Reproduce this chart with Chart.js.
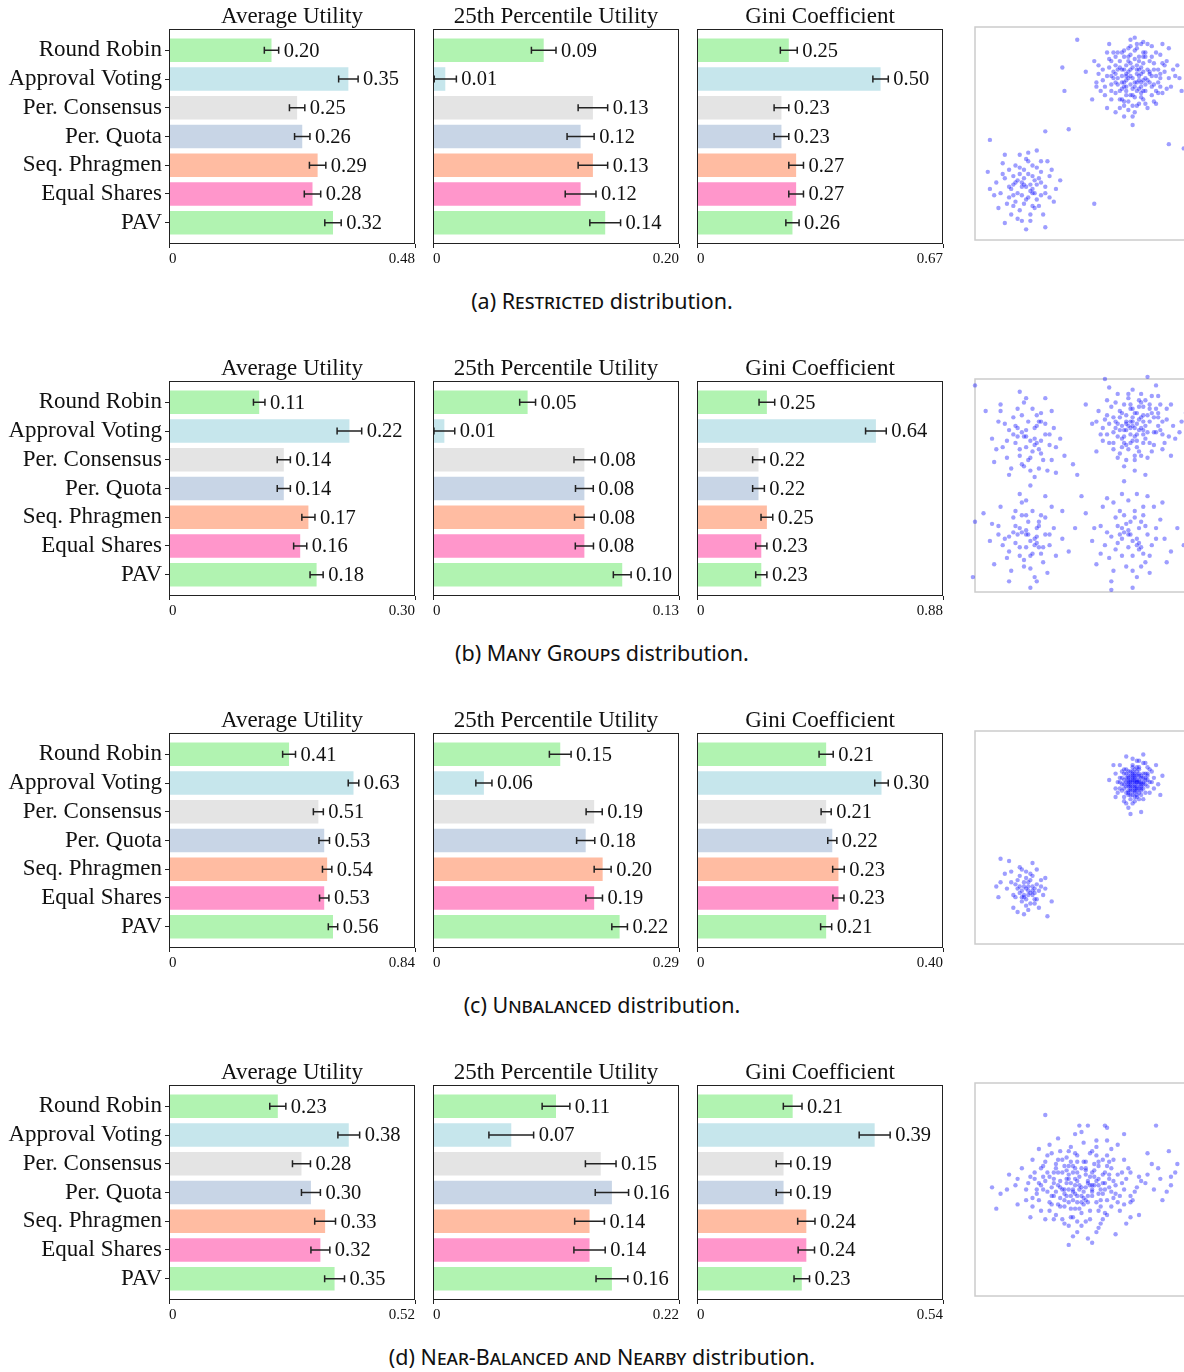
<!DOCTYPE html>
<html lang="en">
<head>
<meta charset="UTF-8">
<title>Voting rules by distribution</title>
<script src="https://cdn.jsdelivr.net/npm/chart.js"></script>
<style>
    html, body { margin: 0; padding: 0; background: #fff; overflow: hidden; width: 1184px; height: 1372px; }
    canvas { position: absolute; }
    .cap { position: absolute; left: 302px; width: 600px; text-align: center; font: 21.5px "Noto Sans", sans-serif; color: #111; line-height: 26px; }
    .sc { font-variant: small-caps; }
</style>
</head>
<body>
<script>
    const methods = ['Round Robin', 'Approval Voting', 'Per. Consensus', 'Per. Quota', 'Seq. Phragmen', 'Equal Shares', 'PAV'];
    const methodColors = ['#b1f3b1', '#c6e6ec', '#e4e4e4', '#c8d5e6', '#ffbca2', '#ff96cb', '#b1f3b1'];
    const metricTitles = ['Average Utility', '25th Percentile Utility', 'Gini Coefficient'];

    // (a) restricted
    const restrictedAvg = [0.20, 0.35, 0.25, 0.26, 0.29, 0.28, 0.32];
    const restrictedAvgErr = [0.014, 0.019, 0.015, 0.015, 0.016, 0.016, 0.016];
    const restrictedP25 = [0.09, 0.01, 0.13, 0.12, 0.13, 0.12, 0.14];
    const restrictedP25Err = [0.010, 0.009, 0.012, 0.011, 0.012, 0.0125, 0.0125];
    const restrictedGini = [0.25, 0.50, 0.23, 0.23, 0.27, 0.27, 0.26];
    const restrictedGiniErr = [0.023, 0.021, 0.020, 0.020, 0.020, 0.020, 0.018];
    const restrictedMax = [0.48, 0.20, 0.67];

    // (b) many groups
    const manyAvg = [0.11, 0.22, 0.14, 0.14, 0.17, 0.16, 0.18];
    const manyAvgErr = [0.007, 0.015, 0.008, 0.008, 0.008, 0.008, 0.008];
    const manyP25 = [0.05, 0.006, 0.08, 0.08, 0.08, 0.08, 0.10];
    const manyP25Err = [0.0042, 0.0055, 0.0055, 0.0047, 0.0052, 0.0048, 0.0047];
    const manyGini = [0.25, 0.64, 0.22, 0.22, 0.25, 0.23, 0.23];
    const manyGiniErr = [0.028, 0.037, 0.021, 0.021, 0.021, 0.020, 0.020];
    const manyMax = [0.30, 0.13, 0.88];

    // (c) unbalanced
    const unbalAvg = [0.41, 0.63, 0.51, 0.53, 0.54, 0.53, 0.56];
    const unbalAvgErr = [0.022, 0.018, 0.017, 0.018, 0.016, 0.016, 0.016];
    const unbalP25 = [0.15, 0.06, 0.19, 0.18, 0.20, 0.19, 0.22];
    const unbalP25Err = [0.0128, 0.0095, 0.0095, 0.0107, 0.010, 0.0098, 0.0092];
    const unbalGini = [0.21, 0.30, 0.21, 0.22, 0.23, 0.23, 0.21];
    const unbalGiniErr = [0.0115, 0.011, 0.0082, 0.0074, 0.0094, 0.009, 0.009];
    const unbalMax = [0.84, 0.29, 0.40];

    // (d) near-balanced and nearby
    const nearAvg = [0.23, 0.38, 0.28, 0.30, 0.33, 0.32, 0.35];
    const nearAvgErr = [0.017, 0.023, 0.019, 0.020, 0.022, 0.020, 0.021];
    const nearP25 = [0.11, 0.07, 0.15, 0.16, 0.14, 0.14, 0.16];
    const nearP25Err = [0.0124, 0.020, 0.0137, 0.0149, 0.0133, 0.014, 0.0142];
    const nearGini = [0.21, 0.39, 0.19, 0.19, 0.24, 0.24, 0.23];
    const nearGiniErr = [0.0205, 0.034, 0.016, 0.016, 0.019, 0.018, 0.017];
    const nearMax = [0.52, 0.22, 0.54];

    // voter positions, flat x,y pairs in box units (0-100, y up)
    const restrictedPoints = [
        74,76, 70,80, 78,72, 66,74, 82,79, 75,85, 71,68, 86,74, 63,81, 79,88, 68,70, 77,64, 84,83, 72,90, 61,72, 89,79,
        76,78, 73,73, 80,76, 69,77, 66,86, 83,68, 75,60, 58,78, 92,72, 71,82, 78,81, 64,66, 87,87, 73,94, 56,84, 81,62,
        70,74, 76,70, 85,77, 67,80, 79,75, 72,65, 62,88, 90,84, 74,81, 77,86, 68,62, 83,91, 59,70, 94,77, 71,78, 80,70,
        65,76, 75,74, 88,69, 73,87, 60,80, 82,84, 70,58, 78,92, 66,69, 86,80, 72,76, 76,82, 64,84, 84,73, 69,88, 79,66,
        57,74, 91,90, 74,71, 81,80, 67,73, 77,77, 62,62, 85,64, 70,86, 95,82, 73,68, 80,88, 55,66, 68,81, 87,76, 76,63,
        63,92, 79,79, 71,72, 83,77, 52,79, 97,70, 75,89, 69,66, 88,92, 74,54,
        72,79, 77,75, 70,72, 79,83, 75,67, 68,84, 82,74, 73,80, 78,69, 65,79, 76,90, 71,75, 84,80, 69,71, 80,86, 74,63,
        62,77, 87,72, 72,84, 78,78, 67,88, 85,70, 76,74, 70,65, 81,92, 64,73, 73,77, 89,82, 77,71, 66,82,
        71,77, 76,80, 69,74, 80,73, 73,83, 78,67, 66,78, 83,86, 75,72, 70,89, 86,69, 64,70, 79,93, 72,61, 91,76, 60,75,
        77,84, 68,66, 82,78, 74,68, 63,85, 88,83, 71,70, 79,86, 67,76, 84,65, 76,92, 58,82, 93,80, 70,63, 81,75, 73,91,
        65,88, 87,78, 74,58, 61,68, 78,74, 85,88, 69,80, 80,64, 72,86, 90,71, 66,60, 77,80, 83,72, 57,72, 96,76, 75,95,
        64,77, 79,70,
        24,25, 20,28, 28,22, 17,24, 31,27, 23,33, 19,18, 27,30, 14,29, 30,16, 22,21, 26,26, 16,33, 33,22, 21,14, 25,37,
        12,22, 29,34, 18,26, 35,30, 24,19, 20,10, 27,24, 10,27, 32,12, 23,29, 15,17, 38,24, 21,31, 26,9, 13,36, 29,19,
        18,21, 34,37, 22,25, 7,24, 28,28, 17,12, 25,41, 37,18, 11,15, 31,32, 19,35, 24,5, 40,28, 14,8, 27,16, 6,32,
        33,6, 21,40, 22,27, 26,23, 20,22, 25,31, 29,26, 23,17, 18,30, 31,21, 16,20, 27,35,
        23,26, 27,22, 19,27, 25,20, 30,29, 21,34, 28,15, 16,25, 33,25, 24,38, 18,16, 31,37, 13,31, 26,12, 35,20, 9,21,
        22,9, 36,33, 14,40, 29,42,
        7,47, 33,51, 41,81, 42,70, 44,52, 56,17, 91,45, 98,43, 48,94
    ];
    const manyGroupsPoints = [
        75,77, 71,80, 79,74, 68,76, 82,80, 74,86, 70,70, 85,75, 65,82, 78,89, 69,72, 77,66, 83,84, 72,91, 62,74, 88,80,
        76,79, 73,74, 80,78, 67,79, 64,87, 84,69, 75,62, 60,77, 91,73, 71,83, 78,82, 65,67, 87,88, 74,95, 58,85, 81,63,
        70,76, 76,71, 86,78, 68,82, 79,76, 72,67, 62,90, 90,86, 74,82, 77,87, 67,63, 83,92, 60,71, 93,78, 71,79, 80,72,
        66,77, 75,73, 89,70, 73,88, 61,81, 82,86, 70,59, 78,93, 65,70, 86,82, 73,77, 76,84, 96,75, 55,79, 80,55, 63,96,
        92,64, 57,66, 85,97, 70,52, 99,84, 52,88,
        74,80, 78,77, 70,73, 81,83, 76,68, 68,85, 84,75, 72,78, 79,70, 66,80, 77,90, 71,76, 86,84, 69,68, 82,88, 75,64,
        63,79, 88,74, 73,86, 79,80,
        73,80, 77,76, 69,78, 81,75, 75,84, 71,69, 84,82, 67,73, 79,87, 74,71, 62,83, 87,76, 70,88, 78,64, 90,81, 65,75,
        76,74, 82,70, 72,93, 80,90, 68,65, 85,86, 59,74, 74,78, 88,67, 66,89, 77,81, 71,62, 94,72, 63,70, 79,83, 86,92,
        69,84, 75,57, 92,88, 57,80, 83,66, 73,70, 67,93, 97,80,
        26,71, 22,75, 30,67, 19,70, 33,74, 25,80, 21,64, 29,78, 16,76, 32,62, 24,68, 28,72, 18,82, 35,69, 23,59, 27,86,
        13,68, 31,84, 20,73, 37,77, 26,63, 17,58, 29,70, 11,80, 34,57, 24,76, 15,63, 40,72, 22,83, 28,54, 12,88, 31,65,
        19,78, 36,85, 24,91, 8,72, 30,80, 16,55, 26,50, 42,64, 9,61, 33,91, 21,94, 38,56, 5,85, 23,73, 28,69, 20,77, 31,80,
        24,73, 28,77, 21,67, 31,71, 25,62, 18,74, 33,79, 27,66, 15,71, 29,83, 22,60, 35,74, 20,86, 26,57, 38,68, 14,79,
        30,58, 23,89, 10,67, 36,62,
        26,24, 22,28, 30,21, 19,23, 33,27, 25,33, 21,17, 29,30, 16,26, 32,14, 24,21, 28,25, 18,35, 35,22, 23,12, 27,38,
        13,22, 31,36, 20,27, 37,30, 26,17, 17,10, 29,23, 11,31, 34,9, 24,29, 15,16, 41,25, 22,36, 28,7, 12,40, 31,18,
        19,31, 36,40, 24,43, 7,24, 30,33, 16,5, 26,2, 44,19, 9,13, 33,45, 21,46, 47,30, 4,37, 24,27, 28,22, 21,30,
        25,27, 21,21, 29,26, 18,28, 32,21, 24,36, 27,18, 14,25, 30,31, 23,15, 35,27, 19,38, 26,11, 16,19, 33,35, 11,27,
        38,17, 22,42, 29,5, 8,32,
        74,24, 70,28, 78,21, 67,23, 81,27, 73,33, 69,17, 77,30, 64,26, 80,14, 72,21, 76,25, 66,35, 83,22, 71,12, 75,38,
        61,22, 79,36, 68,27, 85,30, 74,17, 65,10, 77,23, 59,31, 82,9, 72,29, 63,16, 89,25, 70,36, 76,7, 60,40, 79,18,
        67,31, 84,40, 72,43, 55,24, 78,33, 64,5, 74,2, 92,19, 57,13, 81,45, 69,46, 95,30, 52,37, 98,22, 88,42, 62,44,
        72,27, 76,22, 69,30, 73,27, 77,20, 69,25, 80,31, 75,35, 66,20, 82,17, 71,32, 62,28, 78,12, 85,25, 68,38, 74,10,
        59,18, 87,34, 65,42, 79,40, 90,14, 56,30, 76,46,
        23,-5, 30,-2, 64,1, 65,-2, 0,33, -1,7, 61,100, 81,101, 0,97, 12,85, 46,60, 50,45, 48,55, 41,38
    ];
    const unbalancedPoints = [
        75,75, 73,77, 77,73, 71,74, 79,78, 74,81, 72,70, 80,75, 69,78, 77,82, 72,72, 76,69, 81,80, 74,84, 68,73, 83,76,
        75,77, 74,74, 78,76, 71,78, 70,82, 80,71, 75,67, 67,76, 84,73, 73,79, 77,79, 70,69, 82,82, 74,87, 66,80, 79,68,
        72,75, 76,72, 81,77, 70,80, 78,74, 73,70, 68,84, 83,81, 75,79, 76,81, 70,67, 80,85, 67,71, 86,75, 72,77, 78,72,
        69,75, 75,73, 82,71, 74,83, 68,78, 80,80, 72,64, 77,86, 69,72, 81,79, 73,76, 76,79, 63,77, 85,84, 78,62, 71,88,
        87,70, 66,69, 79,89, 73,61, 88,79, 65,84,
        74,76, 76,74, 73,73, 77,77, 75,71, 72,78, 78,79, 71,76, 79,73, 74,79, 76,77, 73,75, 77,71, 75,80, 70,73, 80,77,
        74,72, 76,76, 72,74, 78,75, 75,78, 73,81, 77,75, 71,71, 79,80, 74,70, 76,83, 72,79, 78,70, 70,77, 81,74, 75,76,
        74,78, 76,73, 73,72, 77,80, 72,81, 79,76, 75,69, 71,82,
        75,74, 74,77, 76,76, 73,74, 77,76, 75,72, 74,80, 78,78, 72,76, 76,70, 79,75, 71,80, 77,83, 73,68, 80,78, 70,75,
        75,82, 78,73, 72,71, 76,86, 68,76, 82,76, 74,66, 81,83, 69,81, 84,78, 77,68, 66,73, 79,85, 71,66,
        25,25, 23,27, 27,23, 21,24, 29,28, 24,31, 22,20, 28,26, 19,28, 27,32, 22,22, 26,19, 31,30, 24,34, 18,23, 33,26,
        25,27, 23,22, 28,21, 20,30, 17,34, 30,17, 25,16, 15,26, 32,23, 21,36, 27,38, 18,17, 34,13, 12,29, 23,14, 29,35,
        11,22, 16,39, 36,20, 12,40, 10,27, 24,26, 26,24, 22,25, 25,29, 27,27, 23,23, 20,26, 28,24, 24,21, 26,30, 21,32,
        29,21, 25,23, 23,29, 27,25, 21,27, 26,33, 28,19, 19,22, 24,18, 30,25, 17,29, 22,35, 31,27, 20,15, 14,33, 33,31
    ];
    const nearbyPoints = [
        49,50, 45,53, 53,47, 41,50, 57,54, 48,58, 44,44, 56,52, 37,55, 52,60, 43,47, 51,43, 60,57, 46,61, 34,49, 63,51,
        49,52, 47,48, 55,50, 40,54, 38,60, 59,45, 50,39, 31,52, 66,48, 44,57, 54,56, 39,43, 62,61, 48,66, 28,58, 58,40,
        42,50, 51,46, 61,53, 37,58, 55,49, 45,41, 33,63, 67,57, 47,55, 52,59, 38,38, 60,64, 30,45, 70,50, 43,53, 57,44,
        36,51, 50,47, 64,42, 48,63, 32,56, 61,58, 41,36, 54,67, 35,44, 63,55, 46,50, 53,54, 25,53, 72,60, 59,34, 40,68,
        74,45, 27,42, 57,70, 44,33, 78,54, 22,60, 50,44, 42,45, 56,62, 34,58, 65,46, 47,41, 39,64, 69,53, 29,48, 52,51,
        62,38, 45,70, 24,45, 75,49, 54,36, 36,67, 81,57, 19,52, 58,61, 43,59, 68,40, 31,40, 48,35, 60,48, 37,47, 55,58,
        27,64, 73,44, 45,63, 64,60, 33,36, 51,72, 40,42, 70,64, 20,43, 84,50, 57,30, 35,71, 77,38, 16,57, 53,27, 62,73,
        86,60, 12,48, 47,76, 71,34, 26,37, 88,45, 44,24, 61,80, 10,41, 92,52, 39,74, 66,29, 8,51, 81,67, 30,69, 55,25,
        94,58, 33,85, 49,80, 85,80, 62,79, 70,76, 91,68, 92,56, 95,62,
        47,52, 51,49, 44,55, 55,47, 42,48, 58,52, 49,56, 46,45, 53,53, 39,52, 61,50, 50,60, 44,50, 56,56, 36,47, 65,54,
        48,44, 52,63, 41,58, 59,42, 33,54, 68,47, 47,67, 54,40, 38,62, 63,63, 29,50, 71,55, 45,37, 57,66, 26,56, 76,51,
        50,33, 43,65, 60,36, 35,40, 67,44, 40,46, 55,52, 46,58, 32,61, 73,58, 58,55, 37,53, 64,49, 52,45, 42,61, 48,47,
        62,66, 30,53,
        50,51, 46,49, 54,52, 43,55, 58,48, 48,54, 45,47, 52,57, 40,51, 60,53, 47,60, 53,44, 56,59, 42,42, 63,57, 38,49,
        51,63, 44,61, 59,50, 35,56, 66,52, 49,41, 41,64, 62,45, 32,50, 69,58, 46,37, 55,68, 28,55, 73,47, 52,35, 39,58,
        65,64, 36,43, 58,63, 24,50, 77,56, 44,68, 61,39, 31,60, 70,43, 48,30, 57,73, 27,46, 80,53, 42,34, 64,69, 20,55,
        83,62, 50,77, 34,66, 73,37, 15,50, 87,55, 46,28, 67,71, 58,32, 37,36, 90,49, 53,80
    ];

    const rows = [
        { label: 'Restricted', values: [restrictedAvg, restrictedP25, restrictedGini], errs: [restrictedAvgErr, restrictedP25Err, restrictedGiniErr], maxes: restrictedMax, points: restrictedPoints },
        { label: 'Many Groups', values: [manyAvg, manyP25, manyGini], errs: [manyAvgErr, manyP25Err, manyGiniErr], maxes: manyMax, points: manyGroupsPoints },
        { label: 'Unbalanced', values: [unbalAvg, unbalP25, unbalGini], errs: [unbalAvgErr, unbalP25Err, unbalGiniErr], maxes: unbalMax, points: unbalancedPoints },
        { label: 'Near-Balanced and Nearby', values: [nearAvg, nearP25, nearGini], errs: [nearAvgErr, nearP25Err, nearGiniErr], maxes: nearMax, points: nearbyPoints }
    ];

    Chart.defaults.font.family = '"Liberation Serif", "Times New Roman", serif';
    Chart.defaults.color = '#111';
    Chart.defaults.animation = false;

    const ROW_STEP = 352;
    const BOX_TOP = 29, BOX_H = 215;
    const PANEL_LEFT = [169, 433, 697], PANEL_W = 246;

    function addCanvas(left, top, w, h) {
        const c = document.createElement('canvas');
        c.width = w; c.height = h;
        c.style.left = left + 'px'; c.style.top = top + 'px';
        c.style.width = w + 'px'; c.style.height = h + 'px';
        document.body.appendChild(c);
        return c;
    }

    // frame, title, error bars and value labels
    function decor(title, values, errs) {
        return {
            id: 'decor',
            afterDatasetsDraw(chart) {
                const { ctx, chartArea: a } = chart;
                const x = chart.scales.x;
                ctx.save();
                ctx.strokeStyle = '#222';
                ctx.lineWidth = 1;
                ctx.strokeRect(Math.round(a.left) + 0.5, Math.round(a.top) + 0.5, Math.round(a.right - a.left) - 1, Math.round(a.bottom - a.top) - 1);
                ctx.fillStyle = '#111';
                ctx.font = '23px "Liberation Serif"';
                ctx.textAlign = 'center';
                ctx.textBaseline = 'alphabetic';
                ctx.fillText(title, (a.left + a.right) / 2, a.top - 6);
                ctx.font = '20.5px "Liberation Serif"';
                ctx.textAlign = 'left';
                ctx.textBaseline = 'middle';
                ctx.lineWidth = 1.5;
                chart.getDatasetMeta(0).data.forEach((bar, i) => {
                    const lo = Math.max(x.getPixelForValue(values[i] - errs[i]), a.left);
                    const hi = x.getPixelForValue(values[i] + errs[i]);
                    const y = bar.y;
                    ctx.beginPath();
                    ctx.moveTo(lo, y); ctx.lineTo(hi, y);
                    ctx.moveTo(lo, y - 3.5); ctx.lineTo(lo, y + 3.5);
                    ctx.moveTo(hi, y - 3.5); ctx.lineTo(hi, y + 3.5);
                    ctx.stroke();
                    ctx.fillText(values[i].toFixed(2), hi + 5, y + 1);
                });
                ctx.restore();
            }
        };
    }

    function barPanel(canvas, showLabels, title, values, errs, max) {
        new Chart(canvas, {
            type: 'bar',
            data: {
                datasets: [{
                    data: values.map((v, i) => ({ x: v, y: i })),
                    backgroundColor: methodColors,
                    barPercentage: 0.82,
                    categoryPercentage: 1
                }]
            },
            options: {
                responsive: false,
                indexAxis: 'y',
                layout: { padding: { top: 30, left: showLabels ? 0 : 6, right: 6, bottom: 0 } },
                plugins: { legend: { display: false }, tooltip: { enabled: false } },
                scales: {
                    x: {
                        type: 'linear', min: 0, max: max,
                        afterBuildTicks: s => { s.ticks = [{ value: 0 }, { value: max }]; },
                        afterFit: s => { s.height = 28; },
                        ticks: { align: 'inner', font: { size: 15 }, padding: 2, maxRotation: 0, callback: v => v === 0 ? '0' : v.toFixed(2) },
                        grid: { drawOnChartArea: false, tickLength: 4, color: '#222' },
                        border: { display: false }
                    },
                    y: {
                        type: 'linear', reverse: true, min: -0.74, max: 6.74, offset: false,
                        display: showLabels,
                        afterBuildTicks: s => { s.ticks = methods.map((m, i) => ({ value: i })); },
                        afterFit: s => { s.width = showLabels ? 169 : 0; },
                        ticks: { font: { size: 23 }, padding: 3, autoSkip: false, callback: v => methods[v] },
                        grid: { drawOnChartArea: false, offset: false, tickLength: 4, color: '#222' },
                        border: { display: false }
                    }
                }
            },
            plugins: [decor(title, values, errs)]
        });
    }

    const scatterBox = {
        id: 'scatterBox',
        beforeDatasetsDraw(chart) {
            const { ctx, chartArea: a } = chart;
            ctx.save();
            ctx.strokeStyle = '#cccccc';
            ctx.lineWidth = 1.5;
            ctx.strokeRect(a.left, a.top, a.right - a.left, a.bottom - a.top);
            ctx.restore();
        }
    };

    function scatterPanel(canvas, flat) {
        const pts = [];
        for (let i = 0; i < flat.length; i += 2) pts.push({ x: flat[i], y: flat[i + 1] });
        new Chart(canvas, {
            type: 'scatter',
            data: {
                datasets: [{
                    data: pts,
                    pointRadius: 2.2,
                    pointBackgroundColor: 'rgba(0, 0, 255, 0.38)',
                    pointBorderWidth: 0,
                    clip: false
                }]
            },
            options: {
                responsive: false,
                layout: { padding: 10 },
                plugins: { legend: { display: false }, tooltip: { enabled: false } },
                scales: {
                    x: { type: 'linear', min: 0, max: 100, display: false },
                    y: { type: 'linear', min: 0, max: 100, display: false }
                }
            },
            plugins: [scatterBox]
        });
    }

    rows.forEach((row, r) => {
        const top = BOX_TOP + r * ROW_STEP;
        for (let p = 0; p < 3; p++) {
            const left = p === 0 ? 0 : PANEL_LEFT[p] - 6;
            const width = p === 0 ? PANEL_LEFT[0] + PANEL_W + 6 : PANEL_W + 12;
            const cv = addCanvas(left, top - 30, width, 30 + BOX_H + 28);
            barPanel(cv, p === 0, metricTitles[p], row.values[p], row.errs[p], row.maxes[p]);
        }
        const sc = addCanvas(965, 27 + r * ROW_STEP - 10, 233, 233);
        scatterPanel(sc, row.points);

        const cap = document.createElement('div');
        cap.className = 'cap';
        cap.style.top = (288 + r * ROW_STEP) + 'px';
        cap.innerHTML = '(' + 'abcd'[r] + ') <span class="sc">' + row.label + '</span> distribution.';
        document.body.appendChild(cap);
    });
</script>
</body>
</html>
